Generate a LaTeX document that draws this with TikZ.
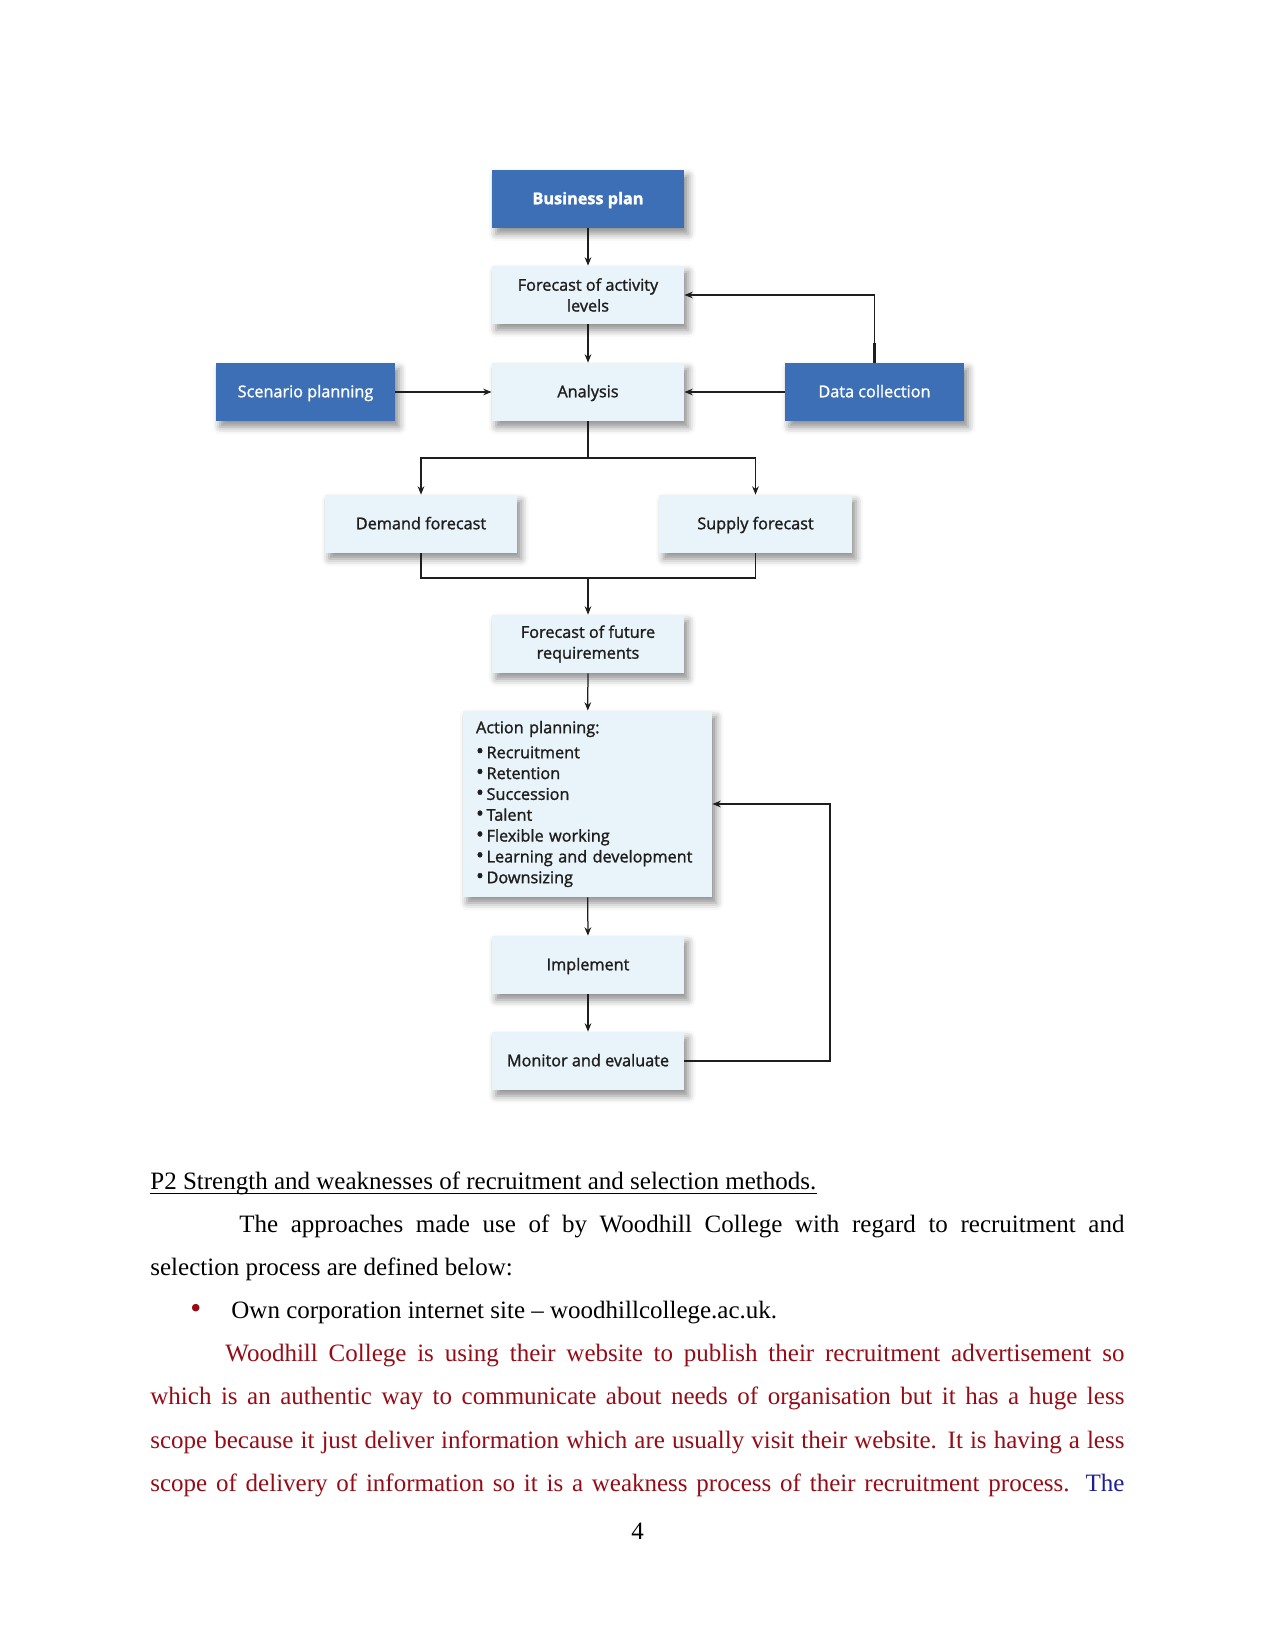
\documentclass[tikz,border=0pt]{standalone}
\usepackage{fontspec}
\setmainfont{Liberation Serif}
\newfontfamily\diagfont[FakeBold=1.4]{Open Sans}
\usetikzlibrary{arrows.meta, positioning, calc, shadows.blur}
\definecolor{hrblue}{RGB}{61,111,182}
\definecolor{hrpale}{RGB}{233,243,250}
\definecolor{hrink}{RGB}{30,30,30}
\definecolor{hrred}{RGB}{150,12,22}
\definecolor{hrnavy}{RGB}{30,30,150}
\tikzset{
  box/.style={fill=hrpale, text=hrink, minimum height=27.8pt, minimum width=92.2pt,
    align=center, font=\diagfont\fontsize{7.8}{10}\selectfont,
    blur shadow={shadow xshift=2pt, shadow yshift=-2.8pt, shadow blur radius=3.5pt, shadow opacity=45}},
  bluebox/.style={box, fill=hrblue, text=white},
  one/.style={text height=1.55ex, text depth=0.45ex},
  arr/.style={-{Stealth[length=4pt, width=3.2pt]}, line width=0.6pt, draw=hrink},
  link/.style={line width=0.6pt, draw=hrink},
  line/.style={anchor=base west, inner sep=0pt, font=\fontsize{12}{14}\selectfont},
}
\newcommand{\fullline}[2][467.5pt]{\makebox[#1][s]{#2}}
\newcommand{\dotitem}{{\fontsize{10}{10}\selectfont\textbullet}\,}
\begin{document}
\begin{tikzpicture}[x=0.48pt, y=-0.48pt]
  \useasboundingbox (0,0) rectangle (1275,1650);
  % flow chart
  \node[bluebox, one, font=\diagfont\bfseries\fontsize{7.8}{10}\selectfont] (bp) at (588,199) {Business plan};
  \node[box] (fal) at (588,295) {Forecast of activity\\levels};
  \node[box, one] (ana) at (588,392) {Analysis};
  \node[bluebox, one, minimum width=85.9pt] (scen) at (305.5,392) {Scenario planning};
  \node[bluebox, one, minimum width=85.9pt] (data) at (874.5,392) {Data collection};
  \node[box, one] (dem) at (421,524) {Demand forecast};
  \node[box, one] (sup) at (755.5,524) {Supply forecast};
  \node[box] (ffr) at (588,644) {Forecast of future\\requirements};
  \node[box, minimum width=119.5pt, minimum height=89.3pt, align=left, text width=107pt] (act) at (587.5,804)
    {Action planning:\\[2pt]
     \dotitem Recruitment\\
     \dotitem Retention\\
     \dotitem Succession\\
     \dotitem Talent\\
     \dotitem Flexible working\\
     \dotitem Learning and development\\
     \dotitem Downsizing};
  \node[box, one] (imp) at (588,965) {Implement};
  \node[box, one] (mon) at (588,1061) {Monitor and evaluate};

  \coordinate (split) at (588,458);
  \coordinate (merge) at (588,578);
  \coordinate (loop) at (830,1061);

  \draw[arr] (bp) -- (fal);
  \draw[arr] (fal) -- (ana);
  \draw[arr] (scen) -- (ana);
  \draw[arr] (data) -- (ana);
  \draw[arr] (data.north) |- (fal.east);
  \draw[line width=1.3pt, draw=hrink] (data.north) -- ++(0,-20);
  \draw[link] (ana) -- (split);
  \draw[arr] (split) -| (dem.north);
  \draw[arr] (split) -| (sup.north);
  \draw[link] (dem.south) |- (merge);
  \draw[link] (sup.south) |- (merge);
  \draw[arr] (merge) -- (ffr.north);
  \draw[arr] (ffr) -- (act);
  \draw[arr] (act) -- (imp);
  \draw[arr] (imp) -- (mon);
  \draw[arr] (mon.east) -- (loop) |- (act.east);
  \draw[line width=1.3pt, draw=hrink] (mon.east) -- ++(26,0);

  % page text
  \node[line] (head) at (150,1189) {P2 Strength and weaknesses of recruitment and selection methods.};
  \draw[line width=0.55pt] ([yshift=-2.2pt]head.base west) -- ([yshift=-2.2pt]head.base east);
  \node[line] (p1a) at (239,1232) {\fullline[424.8pt]{The approaches made use of by Woodhill College with regard to recruitment and}};
  \node[line] (p1b) at (150,1275) {selection process are defined below:};
  \node[line, text=hrred, font=\fontsize{15}{14}\selectfont] (bul) at (190,1318) {\textbullet};
  \node[line] (p2) at (231,1318) {Own corporation internet site -- woodhillcollege.ac.uk.};
  \node[line, text=hrred] (p3a) at (225,1361) {\fullline[431.5pt]{Woodhill College is using their website to publish their recruitment advertisement so}};
  \node[line, text=hrred] (p3b) at (150,1404) {\fullline{which is an authentic way to communicate about needs of organisation but it has a huge less}};
  \node[line, text=hrred] (p3c) at (150,1448) {\fullline{scope because it just deliver information which are usually visit their website. It is having a less}};
  \node[line, text=hrred] (p3d) at (150,1491) {\fullline{scope of delivery of information so it is a weakness process of their recruitment process. \textcolor{hrnavy}{The}}};
  \node[line, anchor=base] (pnum) at (637.5,1539) {4};
\end{tikzpicture}
\end{document}
